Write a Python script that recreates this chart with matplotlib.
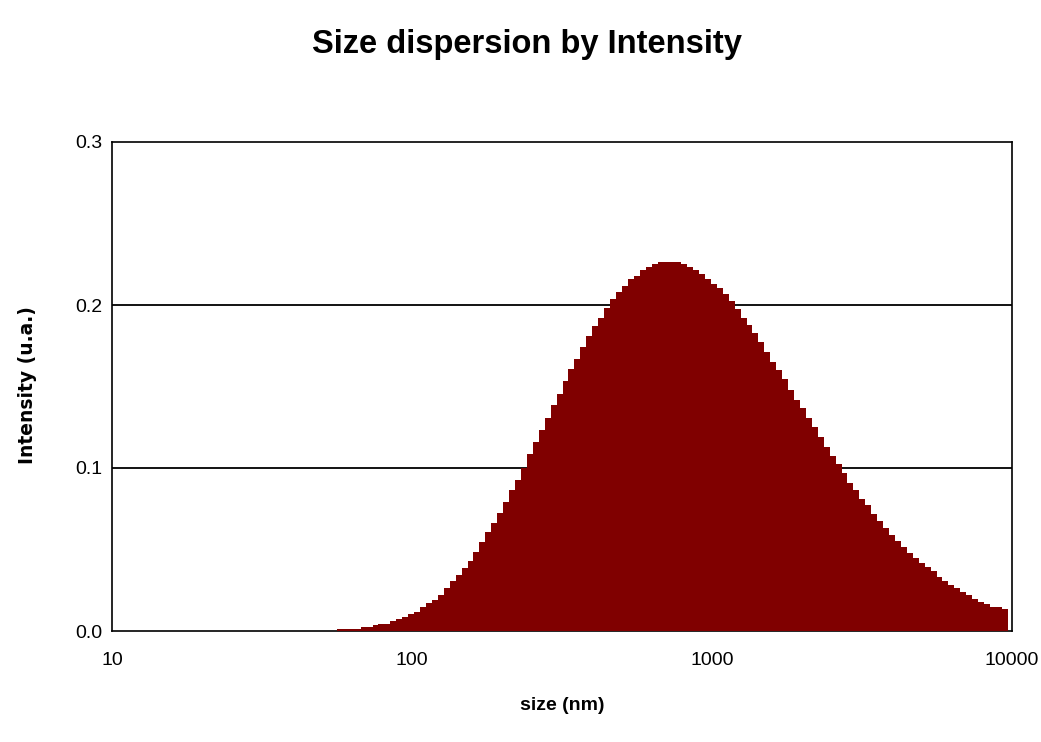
import numpy as np
import matplotlib
matplotlib.use("Agg")
import matplotlib.pyplot as plt

# ---- data ----
size_first_edge_nm = 56.2     # left edge of first size class
size_last_edge_nm = 9680.0    # right edge of last size class
intensity = [
    0.0014, 0.0010, 0.0010, 0.0010, 0.0023, 0.0023, 0.0035, 0.0043, 0.0043, 0.0063,
    0.0076, 0.0086, 0.0106, 0.0117, 0.0149, 0.0169, 0.0188, 0.0219, 0.0264, 0.0305,
    0.0346, 0.0387, 0.0430, 0.0483, 0.0544, 0.0606, 0.0661, 0.0722, 0.0793, 0.0867,
    0.0924, 0.1002, 0.1084, 0.1157, 0.1231, 0.1305, 0.1387, 0.1452, 0.1534, 0.1607,
    0.1669, 0.1742, 0.1808, 0.1869, 0.1922, 0.1984, 0.2037, 0.2078, 0.2119, 0.2160,
    0.2180, 0.2213, 0.2233, 0.2253, 0.2266, 0.2266, 0.2266, 0.2266, 0.2253, 0.2233,
    0.2213, 0.2192, 0.2160, 0.2127, 0.2106, 0.2066, 0.2025, 0.1975, 0.1922, 0.1877,
    0.1828, 0.1775, 0.1710, 0.1648, 0.1603, 0.1546, 0.1480, 0.1419, 0.1366, 0.1305,
    0.1252, 0.1190, 0.1129, 0.1076, 0.1023, 0.0971, 0.0906, 0.0865, 0.0812, 0.0771,
    0.0718, 0.0677, 0.0632, 0.0591, 0.0554, 0.0517, 0.0477, 0.0448, 0.0415, 0.0394,
    0.0366, 0.0333, 0.0305, 0.0284, 0.0264, 0.0239, 0.0219, 0.0198, 0.0178, 0.0166,
    0.0149, 0.0149, 0.0137,
]
x_ticks = [10, 100, 1000, 10000]
x_tick_labels = ["10", "100", "1000", "10000"]
y_ticks = [0.0, 0.1, 0.2, 0.3]
y_tick_labels = ["0.0", "0.1", "0.2", "0.3"]

title = "Size dispersion by Intensity"
xlabel = "size (nm)"
ylabel = "Intensity (u.a.)"

# ---- figure ----
narrow = ["Liberation Sans Narrow", "Liberation Sans", "DejaVu Sans"]

fig = plt.figure(figsize=(10.41, 7.42), dpi=100)
ax = fig.add_axes([112 / 1041, 1 - 631 / 742, 900 / 1041, 489 / 742])

edges = np.geomspace(size_first_edge_nm, size_last_edge_nm, len(intensity) + 1)
ax.bar(edges[:-1], intensity, width=np.diff(edges), align="edge",
       color="#800000", edgecolor="none", linewidth=0, zorder=3)

ax.set_xscale("log")
ax.set_xlim(10, 10000)
ax.set_ylim(0, 0.3)

for yv in [0.1, 0.2]:
    ax.axhline(yv, color="black", lw=1.3, zorder=1)

for s in ax.spines.values():
    s.set_color("black")
    s.set_linewidth(1.2)

ax.set_xticks(x_ticks)
ax.set_xticklabels(x_tick_labels, family=narrow, fontsize=14)
ax.xaxis.set_minor_locator(matplotlib.ticker.NullLocator())
ax.set_yticks(y_ticks)
ax.set_yticklabels(y_tick_labels, family=narrow, fontsize=14)
ax.tick_params(axis="x", length=0, pad=15)
ax.tick_params(axis="y", length=0, pad=7)

ax.set_xlabel(xlabel, family=narrow, fontweight="bold", fontsize=14, labelpad=20)
fig.text(28 / 1041, 1 - 385 / 742, ylabel, rotation=90, ha="center", va="center",
         family=["DejaVu Sans"], fontweight="bold", fontsize=13.5)

fig.text(527 / 1041, 1 - 45 / 742, title, ha="center", va="center",
         family=narrow, fontweight="bold", fontsize=23.5)

fig.savefig("out.png", dpi=100)
